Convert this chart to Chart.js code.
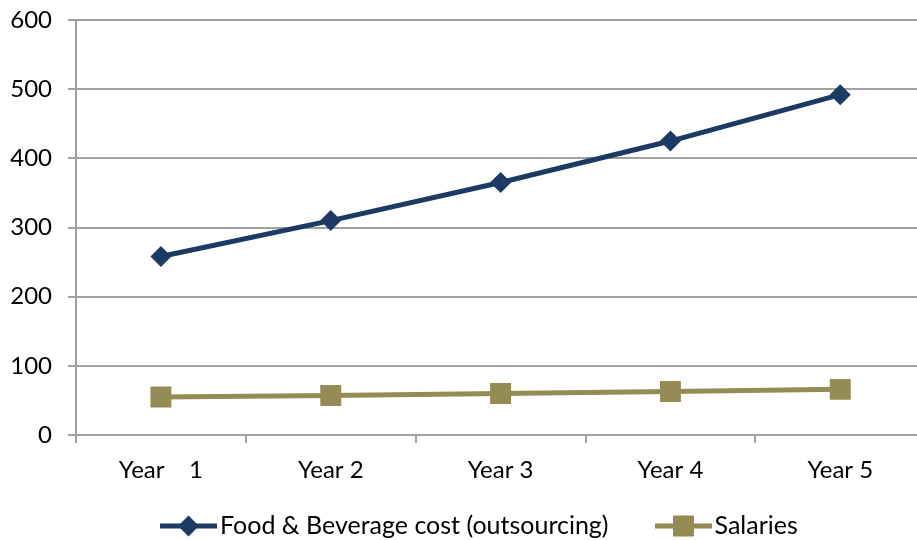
<!DOCTYPE html>
<html>
<head>
<meta charset="utf-8">
<script src="https://cdn.jsdelivr.net/npm/chart.js@4.4.0/dist/chart.umd.min.js"></script>
<style>
  html, body { margin: 0; padding: 0; background: #fff; overflow: hidden; }
  #wrap { position: relative; width: 940px; height: 540px; }
  #legend { position: absolute; left: 160px; top: 509px; font-family: Lato, "Open Sans", sans-serif; font-size: 25px; color: #000; white-space: nowrap; }
  #legend span.item { display: inline-block; margin-right: 46px; }
  #legend canvas { vertical-align: middle; margin-right: 3px; position: relative; top: -2px; }
</style>
</head>
<body>
<div id="wrap">
  <canvas id="mycanvas"></canvas>
  <div id="legend"></div>
</div>
<script>
"use strict";
var years = ['Year    1', 'Year 2', 'Year 3', 'Year 4', 'Year 5'];
var foodCost = [258, 310, 365, 425, 492];
var salaries = [55, 57, 60, 63, 66];
var seriesNames = ['Food & Beverage cost (outsourcing)', 'Salaries'];
var navy = '#1c3a63';
var olive = '#958b55';
var gridGray = '#a0a0a0';
var font = 'Lato, "Open Sans", sans-serif';

var chartdata = {
	labels: years,
	datasets: [
		{
			label: seriesNames[0],
			data: foodCost,
			borderColor: navy,
			backgroundColor: navy,
			borderWidth: 5,
			pointStyle: 'rectRot',
			pointRadius: 10.5,
			pointHoverRadius: 10.5,
			pointBorderWidth: 0
		},
		{
			label: seriesNames[1],
			data: salaries,
			borderColor: olive,
			backgroundColor: olive,
			borderWidth: 5,
			pointStyle: 'rect',
			pointRadius: 14.8,
			pointHoverRadius: 14.8,
			pointBorderWidth: 0
		}
	]
};

var ctx = document.getElementById('mycanvas');
ctx.width = 940;
ctx.height = 540;

var lineGraph = new Chart(ctx, {
	type: 'line',
	data: chartdata,
	options: {
		responsive: false,
		animation: false,
		layout: { padding: { top: 20, left: 10, right: 10, bottom: 0 } },
		plugins: {
			legend: { display: false },
			tooltip: { enabled: false }
		},
		scales: {
			x: {
				offset: true,
				grid: {
					offset: true,
					drawOnChartArea: false,
					drawTicks: true,
					tickLength: 8,
					color: gridGray,
					lineWidth: 2
				},
				border: { color: gridGray, width: 2 },
				ticks: { color: '#000', font: { family: font, size: 24 }, padding: 13 },
				afterFit: function (scale) { scale.height = 105; }
			},
			y: {
				min: 0,
				max: 600,
				ticks: { stepSize: 100, color: '#000', font: { family: font, size: 24 }, padding: 16 },
				grid: { color: gridGray, lineWidth: 2, tickLength: 8 },
				border: { color: gridGray, width: 2 },
				afterFit: function (scale) {
					scale.width = 66;
					scale.paddingTop = 0;
					scale.paddingBottom = 0;
				}
			}
		}
	}
});

// legend below the chart, line + marker like the original
function makeIcon(color, style) {
	var c = document.createElement('canvas');
	c.width = 57;
	c.height = 24;
	var g = c.getContext('2d');
	g.strokeStyle = color;
	g.fillStyle = color;
	g.lineWidth = 5;
	g.beginPath();
	g.moveTo(0, 12);
	g.lineTo(57, 12);
	g.stroke();
	g.beginPath();
	if (style === 'rectRot') {
		g.moveTo(28.5 - 10.5, 12);
		g.lineTo(28.5, 1.5);
		g.lineTo(28.5 + 10.5, 12);
		g.lineTo(28.5, 22.5);
		g.closePath();
		g.fill();
	} else {
		g.fillRect(18, 1.5, 21, 21);
	}
	return c;
}

var legendBox = document.getElementById('legend');
chartdata.datasets.forEach(function (ds) {
	var item = document.createElement('span');
	item.className = 'item';
	item.appendChild(makeIcon(ds.borderColor, ds.pointStyle));
	item.appendChild(document.createTextNode(ds.label));
	legendBox.appendChild(item);
});
</script>
</body>
</html>
